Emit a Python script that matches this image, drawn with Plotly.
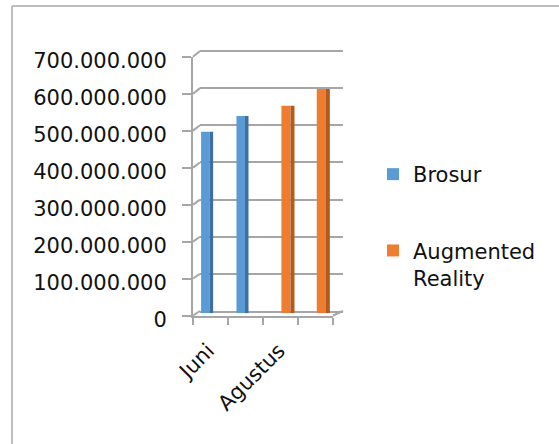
import plotly.graph_objects as go

# Monthly totals per promotion medium (Rupiah)
categories = ["Juni", "Juli", "Agustus", "September"]
brosur_months = ["Juni", "Juli"]
brosur_values = [490_000_000, 532_000_000]
ar_months = ["Agustus", "September"]
ar_values = [560_000_000, 605_000_000]
y_ticks = [0, 100_000_000, 200_000_000, 300_000_000, 400_000_000,
           500_000_000, 600_000_000, 700_000_000]

W, H = 559, 444
YMAX = 700_000_000
FONT = "DejaVu Sans"
FSIZE = 21
GRID = "#A6A6A6"

BLUE, BLUE_SIDE = "#5B9BD5", "#3E6F9E"
ORANGE, ORANGE_SIDE = "#ED7D31", "#B35A1F"


def px_x(p):
    return p / W


def px_y(p):
    return (H - p) / H


# pseudo-3D planes: front (axis labels), middle (columns), back wall (grid)
front_x = [px_x(193), px_x(333)]
front_y = [px_y(315.5), px_y(56.7)]
mid_x = [px_x(196.5), px_x(338)]
mid_y = [px_y(313.3), px_y(53.8)]
back_x = [px_x(200), px_x(343)]
back_y = [px_y(311), px_y(51)]

pos = {c: i for i, c in enumerate(categories)}

fig = go.Figure()

# back wall carrier trace
fig.add_trace(go.Scatter(x=[-0.5, 3.5], y=[0, 0], mode="lines", line=dict(width=0),
                         xaxis="x2", yaxis="y2", showlegend=False, hoverinfo="skip"))

bx = [pos[c] for c in brosur_months]
ax = [pos[c] for c in ar_months]

fig.add_trace(go.Bar(x=bx, y=brosur_values, name="Brosur", legendgroup="a",
                     width=0.24, offset=-0.37, marker=dict(color=BLUE, line=dict(width=0)),
                     xaxis="x3", yaxis="y3"))
fig.add_trace(go.Bar(x=bx, y=brosur_values, legendgroup="a", showlegend=False,
                     width=0.10, offset=-0.13, marker=dict(color=BLUE_SIDE, line=dict(width=0)),
                     xaxis="x3", yaxis="y3"))
fig.add_trace(go.Bar(x=ax, y=ar_values, name="Augmented<br>Reality", legendgroup="b",
                     width=0.26, offset=-0.10, marker=dict(color=ORANGE, line=dict(width=0)),
                     xaxis="x3", yaxis="y3"))
fig.add_trace(go.Bar(x=ax, y=ar_values, legendgroup="b", showlegend=False,
                     width=0.11, offset=0.16, marker=dict(color=ORANGE_SIDE, line=dict(width=0)),
                     xaxis="x3", yaxis="y3"))

# front axis carrier trace
fig.add_trace(go.Scatter(x=[-0.5, 3.5], y=[0, 0], mode="lines", line=dict(width=0),
                         xaxis="x", yaxis="y", showlegend=False, hoverinfo="skip"))

shapes = []


def fy(v):
    return front_y[0] + v / YMAX * (front_y[1] - front_y[0])


def by(v):
    return back_y[0] + v / YMAX * (back_y[1] - back_y[0])


# connectors from the front axis to the back wall grid, and the top grid line
for v in y_ticks:
    shapes.append(dict(type="line", xref="paper", yref="paper",
                       x0=front_x[0], y0=fy(v), x1=back_x[0], y1=by(v),
                       line=dict(color=GRID, width=2)))
shapes.append(dict(type="line", xref="paper", yref="paper",
                   x0=back_x[0], y0=by(y_ticks[-1]), x1=back_x[1], y1=by(y_ticks[-1]),
                   line=dict(color=GRID, width=2)))
# floor right edge
shapes.append(dict(type="line", xref="paper", yref="paper",
                   x0=front_x[1], y0=fy(0), x1=back_x[1], y1=by(0),
                   line=dict(color=GRID, width=2)))
# chart frame
shapes.append(dict(type="line", xref="paper", yref="paper",
                   x0=px_x(12), y0=px_y(6), x1=1, y1=px_y(6),
                   line=dict(color="#A8A8A8", width=1.5)))
shapes.append(dict(type="line", xref="paper", yref="paper",
                   x0=px_x(12), y0=px_y(6), x1=px_x(12), y1=0,
                   line=dict(color="#A8A8A8", width=1.5)))

common = dict(automargin=False, fixedrange=True)

fig.update_layout(
    width=W, height=H, autosize=False,
    margin=dict(l=0, r=0, t=0, b=0, pad=0),
    paper_bgcolor="white", plot_bgcolor="rgba(0,0,0,0)",
    separators=",.",
    font=dict(family=FONT, size=FSIZE, color="#111111"),
    barmode="overlay",
    showlegend=True,
    legend=dict(x=px_x(373), y=px_y(154), xanchor="left", yanchor="top",
                font=dict(family=FONT, size=FSIZE, color="#111111"),
                traceorder="grouped", tracegroupgap=46, valign="top",
                bgcolor="rgba(0,0,0,0)"),
    shapes=shapes,
    xaxis=dict(domain=front_x, anchor="y", range=[-0.5, 3.5],
               tickvals=[i - 0.5 for i in range(len(categories) + 1)],
               showticklabels=False, ticks="outside", ticklen=7, tickwidth=2, tickcolor=GRID,
               showline=True, linecolor=GRID, linewidth=2, showgrid=False, zeroline=False,
               **common),
    yaxis=dict(domain=front_y, anchor="x", range=[0, YMAX], tickvals=y_ticks,
               tickformat=",d", ticks="outside", ticklen=9, tickwidth=2, tickcolor=GRID,
               showline=True, linecolor=GRID, linewidth=2, showgrid=False, zeroline=False,
               ticklabelstandoff=11, ticklabelshift=4, **common),
    xaxis2=dict(domain=back_x, anchor="y2", range=[-0.5, 3.5], showticklabels=False,
                showline=True, linecolor=GRID, linewidth=2, showgrid=False, zeroline=False,
                **common),
    yaxis2=dict(domain=back_y, anchor="x2", range=[0, YMAX], tickvals=y_ticks,
                showticklabels=False, showgrid=True, gridcolor=GRID, gridwidth=2,
                zeroline=False, showline=False, **common),
    xaxis3=dict(domain=mid_x, anchor="y3", range=[-0.5, 3.5],
                tickvals=list(range(len(categories)))[::2], ticktext=categories[::2],
                tickangle=-45, ticks="", showline=False, showgrid=False, zeroline=False,
                ticklabelstandoff=20, ticklabelshift=-6, **common),
    yaxis3=dict(domain=mid_y, anchor="x3", range=[0, YMAX], visible=False, **common),
)

fig.write_html("out.html")
